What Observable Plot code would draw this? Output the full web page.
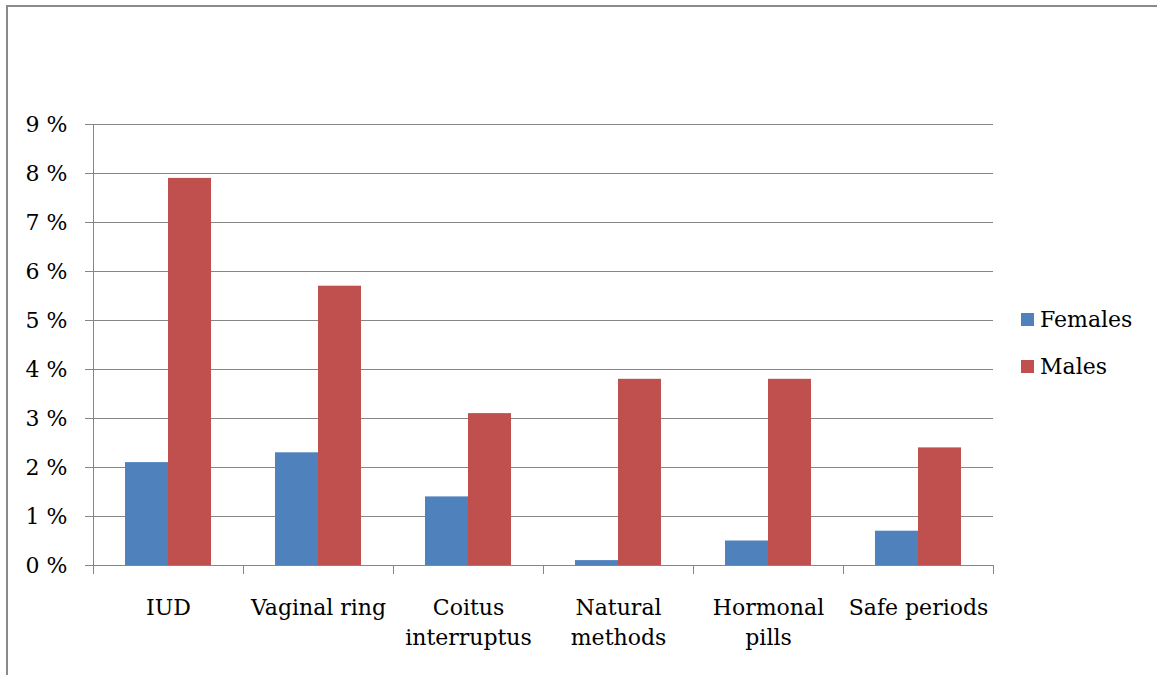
<!DOCTYPE html>
<html><head><meta charset="utf-8">
<script src="https://cdn.jsdelivr.net/npm/d3@7"></script>
<script src="https://cdn.jsdelivr.net/npm/@observablehq/plot@0.6"></script>
<style>
body{margin:0;background:#fff;}
#wrap{position:relative;width:1157px;height:675px;overflow:hidden;font-family:"DejaVu Serif",serif;}
#border{position:absolute;left:6px;top:5px;right:-10px;bottom:-10px;border-left:2px solid #8a8a8a;border-top:2px solid #8a8a8a;pointer-events:none;}
#chart{position:absolute;left:0;top:0;}
#legend{position:absolute;left:1021px;top:296px;font-size:22px;color:#000;}
.item{display:flex;align-items:center;height:47px;}
.sw{width:13px;height:13px;margin-right:6px;}
</style></head>
<body>
<div id="wrap"><div id="chart"></div><div id="legend"></div><div id="border"></div></div>
<script>
const categories = ["IUD", "Vaginal ring", "Coitus interruptus", "Natural methods", "Hormonal pills", "Safe periods"];
const tickLabels = ["IUD", "Vaginal ring", "Coitus\ninterruptus", "Natural\nmethods", "Hormonal\npills", "Safe periods"];
const series = ["Females", "Males"];
const females = [2.1, 2.3, 1.4, 0.1, 0.5, 0.7];
const males = [7.9, 5.7, 3.1, 3.8, 3.8, 2.4];
const colors = ["#4F81BD", "#C0504D"];
const yTicks = [0, 1, 2, 3, 4, 5, 6, 7, 8, 9];

const W = 1157, H = 675, mL = 93, mR = 164, mT = 124, mB = 110;
const innerH = H - mT - mB;
const gray = "#868686";

const data = categories.flatMap((c, i) => [
  {category: c, sex: series[0], value: females[i]},
  {category: c, sex: series[1], value: males[i]}
]);

const chart = Plot.plot({
  width: W, height: H,
  marginLeft: mL, marginRight: mR, marginTop: mT, marginBottom: mB,
  style: {fontFamily: "'DejaVu Serif', serif", fontSize: "22px", color: "#000", background: "transparent"},
  fx: {domain: categories, padding: 0, axis: null, label: null},
  x: {domain: series, paddingInner: 0, paddingOuter: 0.72, axis: null, label: null},
  y: {domain: [0, 9], axis: null, label: null},
  color: {domain: series, range: colors},
  marks: [
    Plot.gridY(yTicks, {stroke: gray, strokeOpacity: 1}),
    Plot.frame({anchor: "left", facetAnchor: "left", stroke: gray, strokeOpacity: 1}),
    Plot.frame({anchor: "left", stroke: gray, strokeOpacity: 1, insetTop: innerH, insetBottom: -8}),
    Plot.frame({anchor: "right", facetAnchor: "right", stroke: gray, strokeOpacity: 1, insetTop: innerH, insetBottom: -8}),
    Plot.barY(data, {fx: "category", x: "sex", y: "value", fill: "sex"}),
    Plot.ruleY([0], {stroke: gray}),
    Plot.axisY({ticks: yTicks, tickSize: 8, tickPadding: 18, stroke: gray, strokeOpacity: 1, fill: "#000", label: null,
      tickFormat: d => `${d} %`}),
    Plot.axisFx({anchor: "bottom", tickSize: 0, tickPadding: 28, lineHeight: 1.36, fill: "#000", label: null,
      tickFormat: d => tickLabels[categories.indexOf(d)]})
  ]
});
document.getElementById("chart").append(chart);

const legend = document.getElementById("legend");
series.forEach((s, i) => {
  const item = document.createElement("div");
  item.className = "item";
  const sw = document.createElement("span");
  sw.className = "sw";
  sw.style.background = colors[i];
  const t = document.createElement("span");
  t.textContent = s;
  item.append(sw, t);
  legend.append(item);
});
</script>
</body></html>
